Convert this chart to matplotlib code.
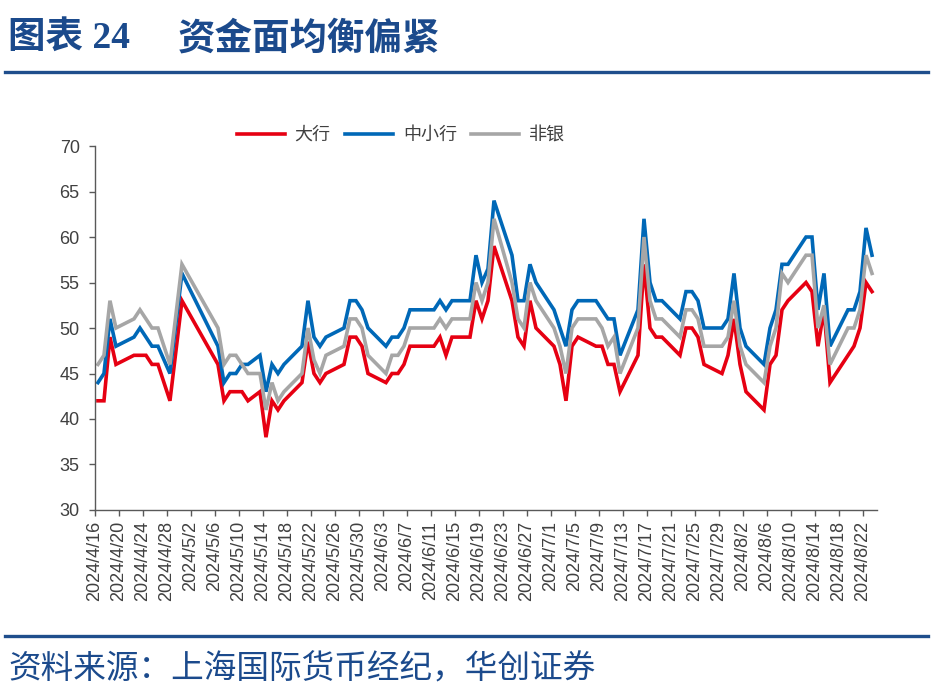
import matplotlib
matplotlib.use('Agg')
import matplotlib.pyplot as plt
import matplotlib.dates as mdates
from matplotlib.lines import Line2D
import pandas as pd

plt.rcParams['font.family'] = ['Liberation Sans', 'Noto Sans CJK SC', 'DejaVu Sans']

# 交易日 (中国工作日)
datas = ['2024-04-16', '2024-04-17', '2024-04-18', '2024-04-19', '2024-04-22', '2024-04-23',
         '2024-04-24', '2024-04-25', '2024-04-26', '2024-04-28', '2024-04-30', '2024-05-06',
         '2024-05-07', '2024-05-08', '2024-05-09', '2024-05-10', '2024-05-11', '2024-05-13',
         '2024-05-14', '2024-05-15', '2024-05-16', '2024-05-17', '2024-05-20', '2024-05-21',
         '2024-05-22', '2024-05-23', '2024-05-24', '2024-05-27', '2024-05-28', '2024-05-29',
         '2024-05-30', '2024-05-31', '2024-06-03', '2024-06-04', '2024-06-05', '2024-06-06',
         '2024-06-07', '2024-06-11', '2024-06-12', '2024-06-13', '2024-06-14', '2024-06-17',
         '2024-06-18', '2024-06-19', '2024-06-20', '2024-06-21', '2024-06-24', '2024-06-25',
         '2024-06-26', '2024-06-27', '2024-06-28', '2024-07-01', '2024-07-02', '2024-07-03',
         '2024-07-04', '2024-07-05', '2024-07-08', '2024-07-09', '2024-07-10', '2024-07-11',
         '2024-07-12', '2024-07-15', '2024-07-16', '2024-07-17', '2024-07-18', '2024-07-19',
         '2024-07-22', '2024-07-23', '2024-07-24', '2024-07-25', '2024-07-26', '2024-07-29',
         '2024-07-30', '2024-07-31', '2024-08-01', '2024-08-02', '2024-08-05', '2024-08-06',
         '2024-08-07', '2024-08-08', '2024-08-09', '2024-08-12', '2024-08-13', '2024-08-14',
         '2024-08-15', '2024-08-16', '2024-08-19', '2024-08-20', '2024-08-21', '2024-08-22',
         '2024-08-23']

daxing = [42, 42, 49, 46, 47, 47, 47, 46, 46, 42, 53, 46,
          42, 43, 43, 43, 42, 43, 38, 42, 41, 42, 44, 48.5,
          45, 44, 45, 46, 49, 49, 48, 45, 44, 45, 45, 46,
          48, 48, 49, 47, 49, 49, 53, 51, 53, 59, 53, 49,
          48, 53, 50, 48, 46, 42, 48, 49, 48, 48, 46, 46,
          43, 47, 57, 50, 49, 49, 47, 50, 50, 49, 46, 45,
          47, 51, 46, 43, 41, 46, 47, 52, 53, 55, 54, 48,
          52, 44, 47, 48, 50, 55, 54]

zhongxiao = [44, 45, 51, 48, 49, 50, 49, 48, 48, 45, 56, 48,
             44, 45, 45, 46, 46, 47, 43, 46, 45, 46, 48, 53,
             49, 48, 49, 50, 53, 53, 52, 50, 48, 49, 49, 50,
             52, 52, 53, 52, 53, 53, 58, 55, 56.5, 64, 58, 53,
             53, 57, 55, 52, 50, 48, 52, 53, 53, 52, 51, 51,
             47, 52, 62, 55, 53, 53, 51, 54, 54, 53, 50, 50,
             51, 56, 50, 48, 46, 50, 52, 57, 57, 60, 60, 52,
             56, 48, 52, 52, 54, 61, 58]

feiyin = [46, 47, 53, 50, 51, 52, 51, 50, 50, 46, 57, 50,
          46, 47, 47, 46, 45, 45, 41, 44, 42, 43, 45, 50,
          46.5, 45, 47, 48, 51, 51, 50, 47, 45, 47, 47, 48,
          50, 50, 51, 50, 51, 51, 55, 53, 55, 62, 55, 51,
          50, 55, 53, 50, 48, 45, 50, 51, 51, 50, 48, 49,
          45, 50, 60, 53, 51, 51, 49, 52, 52, 51, 48, 48,
          49, 53, 48, 46, 44, 48, 50, 56, 55, 58, 58, 50,
          52.5, 46, 50, 50, 52, 58, 56]

series = [('大行', daxing, '#E60012'), ('中小行', zhongxiao, '#0068B7'), ('非银', feiyin, '#A6A6A6')]

cinza = '#404040'
azul = '#1B4A8C'

fig = plt.figure(figsize=(9.31, 6.99), dpi=100)
ax = fig.add_axes([0.102, 0.2704, 0.840, 0.5207])

# pontos no meio do dia, como no eixo de datas do Excel
x = pd.to_datetime(datas) + pd.Timedelta(hours=12)
for nome, vals, cor in series:
    ax.plot(x, vals, color=cor, lw=2.6, label=nome, solid_joinstyle='miter')

ax.set_ylim(30, 70)
ax.set_yticks(range(30, 71, 5))
ax.set_xlim(pd.Timestamp('2024-04-16'), pd.Timestamp('2024-08-24 08:00'))

ticks = pd.date_range('2024-04-16', '2024-08-22', freq='4D')
ax.set_xticks(ticks)
ax.set_xticklabels([f'{t.year}/{t.month}/{t.day}' for t in ticks], rotation=90)

for s in ['top', 'right']:
    ax.spines[s].set_visible(False)
for s in ['left', 'bottom']:
    ax.spines[s].set_color('#595959')
    ax.spines[s].set_linewidth(1.0)

ax.tick_params(axis='y', direction='out', length=4, width=1, color='#595959', labelsize=13, labelcolor=cinza, pad=7)
ax.tick_params(axis='x', direction='out', length=4, width=1, color='#595959', labelsize=13, labelcolor=cinza, pad=4)

leg = ax.legend(loc='center', bbox_to_anchor=(401 / 931, 1 - 135 / 699), bbox_transform=fig.transFigure,
                ncol=3, frameon=False, fontsize=13, handlelength=2.65, handletextpad=0.55,
                columnspacing=0.8, borderaxespad=0)
for t in leg.get_texts():
    t.set_color(cinza)
    t.set_family(['Noto Sans CJK SC'])

# titulo e rodape
fig.text(8 / 931, 1 - 38 / 699, '图表 24', fontsize=27, fontweight='bold', color=azul, va='center', ha='left',
         family=['Liberation Serif', 'Noto Sans CJK SC'])
fig.text(178 / 931, 1 - 38 / 699, '资金面均衡偏紧', fontsize=27, fontweight='bold', color=azul, va='center', ha='left',
         family=['Noto Sans CJK SC'])
fig.add_artist(Line2D([5 / 931, 928 / 931], [1 - 72 / 699, 1 - 72 / 699], transform=fig.transFigure,
                      color='#1F4E8C', lw=2.4))
fig.add_artist(Line2D([5 / 931, 928 / 931], [1 - 636 / 699, 1 - 636 / 699], transform=fig.transFigure,
                      color='#1F4E8C', lw=2.4))
fig.text(8 / 931, 1 - 669 / 699, '资料来源：上海国际货币经纪，华创证券', fontsize=23.5, color=azul, va='center', ha='left',
         family=['Noto Sans CJK SC'])

plt.savefig('out.png', dpi=100)
plt.close()
